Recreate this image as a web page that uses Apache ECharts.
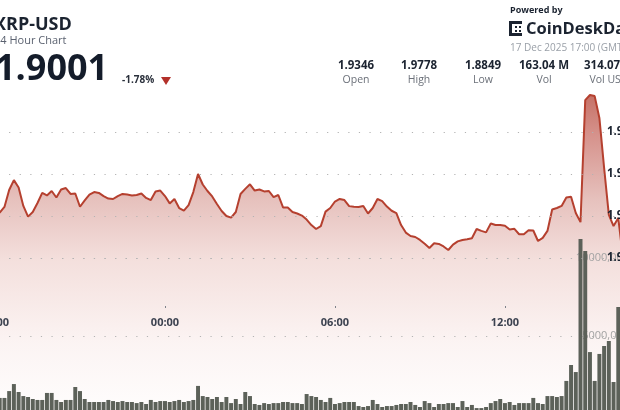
<!DOCTYPE html>
<html>
<head>
<meta charset="utf-8">
<script src="https://cdn.jsdelivr.net/npm/echarts@6/dist/echarts.min.js"></script>
<style>
  html, body { margin: 0; padding: 0; background: #fff; overflow: hidden; width: 620px; height: 410px; position: relative; }
  /* the reference is a crop of a wider chart, so the canvas hangs off the left edge */
  #chart { position: absolute; left: -60px; top: 0; width: 740px; height: 440px; }
</style>
</head>
<body>
<div id="chart"></div>
<script>
// XRP-USD, 10 minute points from 16 Dec 17:00 to 17 Dec 16:10 (GMT)
const price = [
  1.9252, 1.9276, 1.9262, 1.9238, 1.9229, 1.9243, 1.9224, 1.9216, 1.9243, 1.9324,
  1.9371, 1.9336, 1.9248, 1.9197, 1.9219, 1.9262, 1.9310, 1.9298, 1.9319, 1.9288,
  1.9326, 1.9333, 1.9305, 1.9307, 1.9244, 1.9274, 1.9302, 1.9314, 1.9310, 1.9295,
  1.9283, 1.9281, 1.9295, 1.9305, 1.9302, 1.9298, 1.9300, 1.9307, 1.9286, 1.9276,
  1.9317, 1.9321, 1.9295, 1.9260, 1.9281, 1.9238, 1.9226, 1.9252, 1.9314, 1.9400,
  1.9350, 1.9319, 1.9293, 1.9257, 1.9224, 1.9200, 1.9192, 1.9219, 1.9305, 1.9329,
  1.9351, 1.9321, 1.9326, 1.9317, 1.9319, 1.9290, 1.9300, 1.9241, 1.9240, 1.9219,
  1.9212, 1.9202, 1.9183, 1.9157, 1.9138, 1.9152, 1.9221, 1.9238, 1.9269, 1.9281,
  1.9276, 1.9247, 1.9244, 1.9243, 1.9248, 1.9212, 1.9238, 1.9281, 1.9271, 1.9245,
  1.9225, 1.9214, 1.9157, 1.9121, 1.9105, 1.9100, 1.9086, 1.9068, 1.9048, 1.9070,
  1.9067, 1.9055, 1.9038, 1.9064, 1.9079, 1.9086, 1.9089, 1.9094, 1.9138, 1.9129,
  1.9122, 1.9164, 1.9157, 1.9157, 1.9154, 1.9136, 1.9139, 1.9113, 1.9113, 1.9132,
  1.9131, 1.9081, 1.9096, 1.9129, 1.9231, 1.9238, 1.9248, 1.9288, 1.9292, 1.9214,
  1.9171, 1.9752, 1.9776, 1.9771, 1.9667, 1.9429, 1.9205, 1.9152, 1.9190, 1.9001
];
const volume = [
  1100, 1000, 1200, 900, 1000, 1300, 1000, 1030, 1030, 1470,
  1920, 1410, 1150, 1090, 960, 900, 900, 1350, 1350, 900,
  770, 900, 900, 1730, 1470, 960, 770, 770, 770, 770,
  900, 830, 770, 830, 770, 770, 700, 770, 640, 900,
  770, 830, 830, 770, 830, 900, 770, 830, 900, 1800,
  1150, 1090, 960, 1090, 770, 1090, 700, 960, 640, 1410,
  1150, 640, 580, 700, 640, 700, 700, 770, 770, 700,
  700, 640, 1280, 1150, 1090, 900, 770, 1030, 640, 700,
  770, 770, 770, 510, 450, 510, 900, 640, 450, 510,
  510, 580, 640, 640, 770, 580, 450, 830, 700, 450,
  640, 640, 700, 700, 450, 830, 450, 580, 380, 380,
  450, 700, 830, 960, 700, 770, 580, 700, 700, 700,
  1030, 700, 640, 1150, 1150, 1090, 1150, 2120, 3140, 2690,
  11220, 10450, 3970, 2120, 3850, 4360, 4680, 2050, 6860, 5000
];
const xTickLabels = ['18:00', '00:00', '06:00', '12:00'];
const stats = [
  ['1.9346', 'Open'], ['1.9778', 'High'], ['1.8849', 'Low'],
  ['163.04 M', 'Vol'], ['314.07 M', 'Vol USD']
];

const times = [];
for (let i = 0; i < price.length; i++) {
  const m = (17 * 60 + i * 10) % 1440;
  times.push(String(Math.floor(m / 60)).padStart(2, '0') + ':' + String(m % 60).padStart(2, '0'));
}

const OX = 60; // canvas x offset against the picture
const FONT = '"Open Sans", "Noto Sans", sans-serif';
const dotted = { type: [1.2, 9.4], color: '#b3b3b3', width: 1 };
const isTick = (idx, val) => xTickLabels.includes(val);

const chart = echarts.init(document.getElementById('chart'), null, { renderer: 'canvas' });

function txt(x, y, text, size, color, weight, align) {
  return {
    type: 'text', x: x + OX, y: y, z: 20,
    style: {
      text: text, fill: color, font: (weight || 'normal') + ' ' + size + 'px ' + FONT,
      textAlign: align || 'left', textVerticalAlign: 'middle'
    }
  };
}

const graphics = [
  txt(-6, 25, 'XRP-USD', 18, '#1b2330', 'bold'),
  txt(-6, 41, '24 Hour Chart', 11, '#5b6270'),
  txt(-5, 70, '1.9001', 36, '#141c2a', 'bold'),
  txt(122, 80, '-1.78%', 10, '#2a303b', 'bold'),
  { type: 'polygon', z: 20, shape: { points: [[161 + OX, 77], [171 + OX, 77], [166 + OX, 85]] }, style: { fill: '#b3302a' } },
  txt(510, 10, 'Powered by', 9, '#1b2330', 'bold'),
  // CoinDesk mark
  { type: 'rect', z: 20, shape: { x: 509 + OX, y: 21, width: 3, height: 15 }, style: { fill: '#1b2330' } },
  { type: 'rect', z: 20, shape: { x: 509 + OX, y: 21, width: 13, height: 3 }, style: { fill: '#1b2330' } },
  { type: 'rect', z: 20, shape: { x: 509 + OX, y: 33, width: 13, height: 3 }, style: { fill: '#1b2330' } },
  { type: 'rect', z: 20, shape: { x: 515 + OX, y: 26, width: 2, height: 2 }, style: { fill: '#1b2330' } },
  { type: 'rect', z: 20, shape: { x: 519 + OX, y: 26, width: 2, height: 2 }, style: { fill: '#1b2330' } },
  { type: 'rect', z: 20, shape: { x: 515 + OX, y: 30, width: 2, height: 2 }, style: { fill: '#1b2330' } },
  { type: 'rect', z: 20, shape: { x: 519 + OX, y: 30, width: 2, height: 2 }, style: { fill: '#1b2330' } },
  txt(526, 29, 'CoinDeskData', 16.5, '#1b2330', 'bold'),
  txt(510, 48, '17 Dec 2025 17:00 (GMT)', 10, '#9aa0a8')
];
const statX = [356, 419, 483, 544, 609];
stats.forEach((s, i) => {
  graphics.push(txt(statX[i], 66, s[0], 11.5, '#1b2330', 'bold', 'center'));
  graphics.push(txt(statX[i], 80, s[1], 10.5, '#6b7079', 'normal', 'center'));
});

const option = {
  animation: false,
  backgroundColor: '#ffffff',
  textStyle: { fontFamily: FONT },
  grid: [
    { left: 26.67, right: 57, top: 132, height: 126 },
    { left: 26.67, right: 57, top: 258, height: 156 }
  ],
  xAxis: [
    {
      gridIndex: 0, type: 'category', data: times, boundaryGap: false, offset: 48, z: 10,
      axisLine: { show: false },
      axisTick: { show: true, length: 2, interval: isTick, lineStyle: { color: '#7d828a' } },
      axisLabel: { interval: isTick, margin: 11, color: '#3c4250', fontWeight: 'bold', fontSize: 11, fontFamily: FONT },
      splitLine: { show: false }
    },
    { gridIndex: 1, type: 'category', data: times, boundaryGap: false, show: false }
  ],
  yAxis: [
    {
      gridIndex: 0, type: 'value', position: 'right', min: 1.90, max: 1.96, interval: 0.02, offset: -20, z: 10,
      axisLine: { show: false }, axisTick: { show: false },
      axisLabel: { margin: 4, color: '#1b2330', fontWeight: 'bold', fontSize: 11.5, fontFamily: FONT, formatter: v => v.toFixed(2) },
      splitLine: { show: true, lineStyle: dotted }
    },
    {
      gridIndex: 1, type: 'value', position: 'right', min: 0, max: 10000, interval: 5000, offset: 8, z: 3.5,
      axisLine: { show: false }, axisTick: { show: false },
      axisLabel: { inside: true, margin: 2, color: '#a3a3a3', fontSize: 11, fontFamily: FONT, formatter: v => v === 0 ? '' : v + ',000' },
      splitLine: { show: true, lineStyle: dotted }
    }
  ],
  series: [
    {
      type: 'line', xAxisIndex: 0, yAxisIndex: 0, data: price, clip: false, z: 3,
      symbol: 'none', lineStyle: { color: '#b5402f', width: 2 },
      areaStyle: {
        origin: 1.82,
        color: new echarts.graphic.LinearGradient(0, 0, 0, 1, [
          { offset: 0, color: '#ad3526' },
          { offset: 0.12, color: '#c4635a' },
          { offset: 0.32, color: '#dca8a2' },
          { offset: 0.5, color: '#efd2ce' },
          { offset: 0.75, color: '#faefee' },
          { offset: 1, color: '#ffffff' }
        ])
      }
    },
    {
      type: 'bar', xAxisIndex: 1, yAxisIndex: 1, data: volume, clip: false, z: 4,
      barWidth: '84%', itemStyle: { color: '#5c6159' }
    }
  ],
  graphic: graphics
};

chart.setOption(option);
</script>
</body>
</html>
